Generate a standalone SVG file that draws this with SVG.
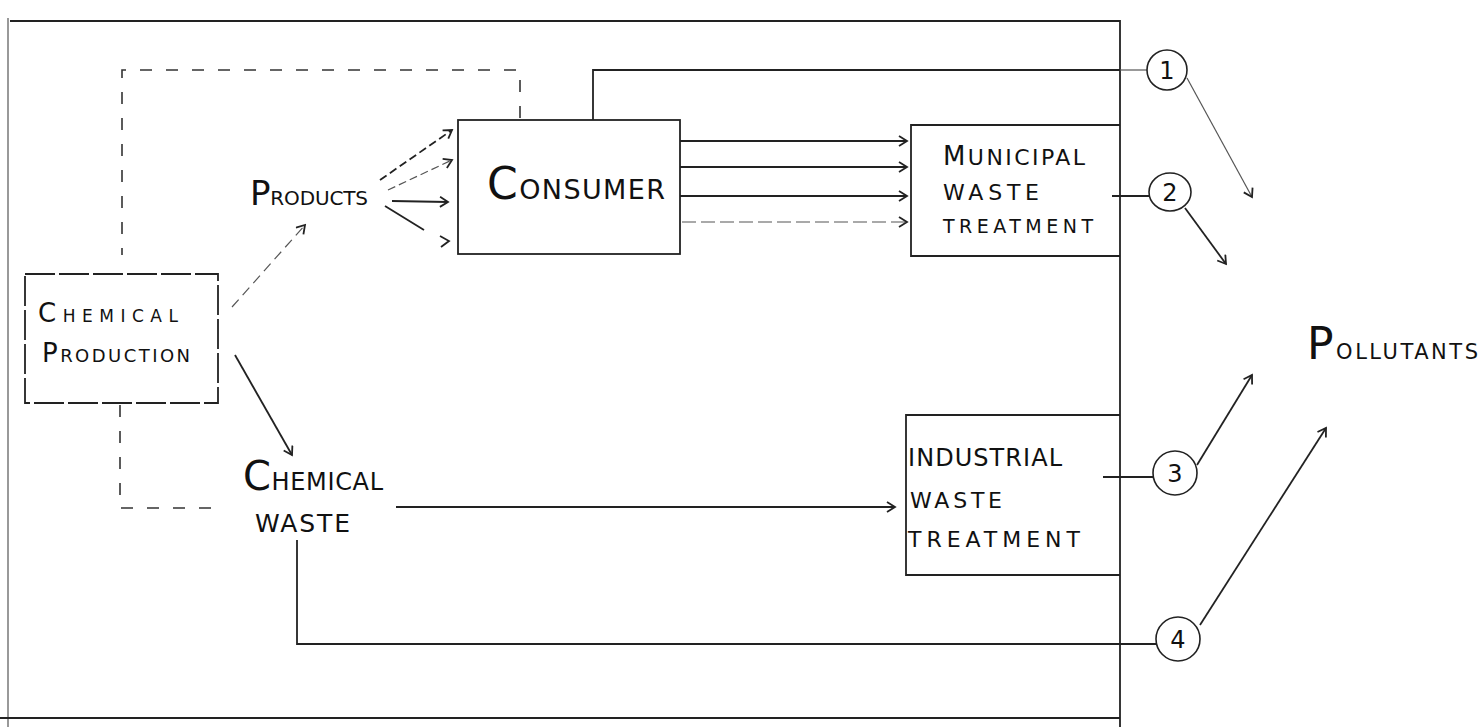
<svg xmlns="http://www.w3.org/2000/svg" width="1482" height="727" viewBox="0 0 1482 727">
<defs>
<marker id="ah" markerWidth="12" markerHeight="12" refX="10" refY="6" orient="auto" markerUnits="userSpaceOnUse">
<path d="M2,1 L10,6 L2,11" fill="none" stroke="#222" stroke-width="1.8"/>
</marker>
<style>
.ln{fill:none;stroke:#222;stroke-width:1.8}
.fl{fill:none;stroke:#555;stroke-width:1.2}
.ds{fill:none;stroke:#333;stroke-width:1.6;stroke-dasharray:12 14}
.bx{fill:none;stroke:#222;stroke-width:1.8}
.tx{font-family:"DejaVu Sans","Liberation Sans",sans-serif;fill:#111}
.cr{fill:#fff;stroke:#222;stroke-width:1.6}
</style>
</defs>
<rect width="1482" height="727" fill="#fff"/>
<g id="frame">
<path class="ln" d="M10,21 H1120 V727"/>
<path class="fl" d="M8,18 V727"/>
<path class="ln" d="M0,718 H1120"/>
</g>
<g id="connectors">
<path class="ds" d="M520,118 V70 H122 V255"/>
<path class="ds" d="M120,405 V508 H225"/>
<path class="ln" d="M593,120 V70 H1120"/>
<path class="fl" d="M1120,70 H1147"/>
<path class="fl" d="M232,307 L305,225" stroke-dasharray="10 6" marker-end="url(#ah)"/>
<path class="ln" d="M380,180 L452,130" stroke-dasharray="8 4" marker-end="url(#ah)"/>
<path class="fl" d="M388,190 L452,160" stroke-dasharray="8 4" marker-end="url(#ah)"/>
<path class="ln" d="M392,201 L448,202" marker-end="url(#ah)"/>
<path class="ln" d="M385,206 L424,230"/>
<path class="ln" d="M440,236 L449,241 L441,247"/>
<path class="ln" d="M235,355 L292,455" marker-end="url(#ah)"/>
<path class="ln" d="M680,141 H907" marker-end="url(#ah)"/>
<path class="ln" d="M680,167 H907" marker-end="url(#ah)"/>
<path class="ln" d="M680,196 H907" marker-end="url(#ah)"/>
<path class="fl" d="M682,222 H907" stroke-dasharray="14 5" marker-end="url(#ah)"/>
<path class="ln" d="M396,507 H895" marker-end="url(#ah)"/>
<path class="ln" d="M297,540 V644 H1157"/>
<path class="ln" d="M1112,196 H1150"/>
<path class="ln" d="M1103,477 H1153"/>
<path class="fl" d="M1187,78 L1252,197" marker-end="url(#ah)"/>
<path class="ln" d="M1185,208 L1226,264" marker-end="url(#ah)"/>
<path class="ln" d="M1197,465 L1252,375" marker-end="url(#ah)"/>
<path class="ln" d="M1200,625 L1326,428" marker-end="url(#ah)"/>
</g>
<g id="chemical-production">
<rect class="bx" x="25" y="274" width="193" height="129" stroke-dasharray="30 4"/>
<text class="tx" x="38" y="322" font-size="17" textLength="140" lengthAdjust="spacing"><tspan font-size="26">C</tspan>HEMICAL</text>
<text class="tx" x="42" y="362" font-size="18" textLength="148" lengthAdjust="spacing"><tspan font-size="26">P</tspan>RODUCTION</text>
</g>
<g id="products">
<text class="tx" x="250" y="205" font-size="20" textLength="118" lengthAdjust="spacing"><tspan font-size="34">P</tspan>RODUCTS</text>
</g>
<g id="consumer">
<rect class="bx" x="458" y="120" width="222" height="134"/>
<text class="tx" x="487" y="199" font-size="27" textLength="178" lengthAdjust="spacing"><tspan font-size="44">C</tspan>ONSUMER</text>
</g>
<g id="municipal">
<path class="bx" d="M1120,125 H911 V256 H1120"/>
<text class="tx" x="943" y="165" font-size="22" textLength="142" lengthAdjust="spacing"><tspan font-size="26">M</tspan>UNICIPAL</text>
<text class="tx" x="943" y="200" font-size="22" textLength="96" lengthAdjust="spacing">WASTE</text>
<text class="tx" x="943" y="233" font-size="19" textLength="150" lengthAdjust="spacing">TREATMENT</text>
</g>
<g id="chemical-waste">
<text class="tx" x="243" y="490" font-size="24" textLength="140" lengthAdjust="spacing"><tspan font-size="40">C</tspan>HEMICAL</text>
<text class="tx" x="255" y="532" font-size="25" textLength="95" lengthAdjust="spacing">WASTE</text>
</g>
<g id="industrial">
<path class="bx" d="M1120,415 H906 V575 H1120"/>
<text class="tx" x="908" y="466" font-size="24" textLength="154" lengthAdjust="spacing">INDUSTRIAL</text>
<text class="tx" x="910" y="508" font-size="22" textLength="92" lengthAdjust="spacing">WASTE</text>
<text class="tx" x="908" y="547" font-size="22" textLength="172" lengthAdjust="spacing">TREATMENT</text>
</g>
<g id="c1"><ellipse class="cr" cx="1167" cy="70" rx="20" ry="20"/><text class="tx" x="1167" y="79" font-size="24" text-anchor="middle">1</text></g>
<g id="c2"><ellipse class="cr" cx="1170" cy="192" rx="21" ry="19"/><text class="tx" x="1170" y="201" font-size="24" text-anchor="middle">2</text></g>
<g id="c3"><ellipse class="cr" cx="1175" cy="473" rx="22" ry="22"/><text class="tx" x="1175" y="482" font-size="24" text-anchor="middle">3</text></g>
<g id="c4"><ellipse class="cr" cx="1178" cy="639" rx="22" ry="22"/><text class="tx" x="1178" y="648" font-size="24" text-anchor="middle">4</text></g>
<g id="pollutants">
<text class="tx" x="1307" y="359" font-size="21" textLength="171" lengthAdjust="spacing"><tspan font-size="44">P</tspan>OLLUTANTS</text>
</g>
</svg>
